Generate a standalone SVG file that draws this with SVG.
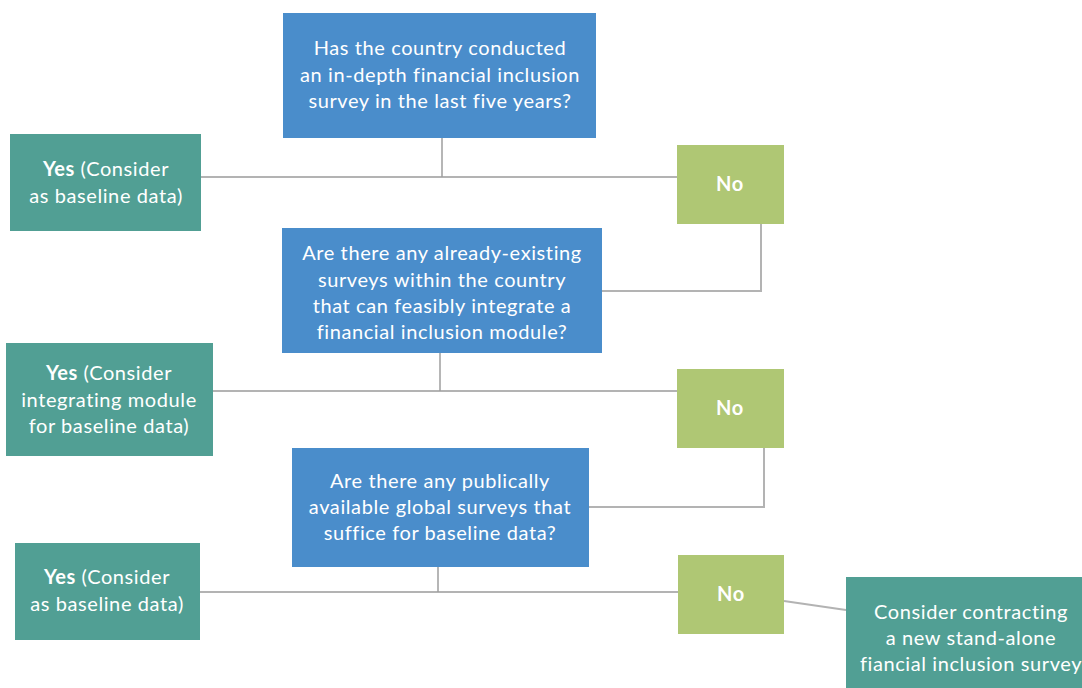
<svg xmlns="http://www.w3.org/2000/svg" width="1082" height="688" viewBox="0 0 1082 688">
<style>
.q{fill:#4A8DCB}
.y{fill:#519F94}
.n{fill:#AFC774}
.t{font-family:Lato,"Open Sans",sans-serif;font-size:20px;letter-spacing:0.6px;fill:#fff;text-anchor:middle}
.b{font-weight:bold}
.c{stroke:#B3B3B3;stroke-width:2;fill:none}
.v{stroke:#9E9E9E;stroke-width:1.5;fill:none}
</style>
<rect width="1082" height="688" fill="#fff"/>
<g id="connectors">
<path class="c" d="M201 177H677"/>
<path class="v" d="M442 138V177"/>
<path class="c" d="M761 224V291H602"/>
<path class="c" d="M213 391H677"/>
<path class="v" d="M440 353V391"/>
<path class="c" d="M764 448V507H589"/>
<path class="c" d="M200 592H678"/>
<path class="v" d="M438 567V592"/>
<path class="c" d="M784 601L846 610"/>
</g>
<g id="q1"><rect class="q" x="283" y="13" width="313" height="125"/>
<text class="t" x="440"><tspan x="440" y="55">Has the country conducted</tspan><tspan x="440" y="82">an in-depth financial inclusion</tspan><tspan x="440" y="108">survey in the last five years?</tspan></text></g>
<g id="yes1"><rect class="y" x="10" y="134" width="191" height="97"/>
<text class="t"><tspan x="106" y="176"><tspan class="b">Yes</tspan> (Consider</tspan><tspan x="106" y="203">as baseline data)</tspan></text></g>
<g id="no1"><rect class="n" x="677" y="145" width="107" height="79"/>
<text class="t b" x="730" y="191">No</text></g>
<g id="q2"><rect class="q" x="282" y="228" width="320" height="125"/>
<text class="t"><tspan x="442" y="260">Are there any already-existing</tspan><tspan x="442" y="287">surveys within the country</tspan><tspan x="442" y="313">that can feasibly integrate a</tspan><tspan x="442" y="339">financial inclusion module?</tspan></text></g>
<g id="yes2"><rect class="y" x="6" y="343" width="207" height="113"/>
<text class="t"><tspan x="109" y="380"><tspan class="b">Yes</tspan> (Consider</tspan><tspan x="109" y="407">integrating module</tspan><tspan x="109" y="433">for baseline data)</tspan></text></g>
<g id="no2"><rect class="n" x="677" y="369" width="107" height="79"/>
<text class="t b" x="730" y="415">No</text></g>
<g id="q3"><rect class="q" x="292" y="448" width="297" height="119"/>
<text class="t"><tspan x="440" y="488">Are there any publically</tspan><tspan x="440" y="514">available global surveys that</tspan><tspan x="440" y="540">suffice for baseline data?</tspan></text></g>
<g id="yes3"><rect class="y" x="15" y="543" width="185" height="97"/>
<text class="t"><tspan x="107" y="584"><tspan class="b">Yes</tspan> (Consider</tspan><tspan x="107" y="611">as baseline data)</tspan></text></g>
<g id="no3"><rect class="n" x="678" y="555" width="106" height="79"/>
<text class="t b" x="731" y="601">No</text></g>
<g id="final"><rect class="y" x="846" y="577" width="236" height="111"/>
<text class="t"><tspan x="971" y="619">Consider contracting</tspan><tspan x="971" y="645">a new stand-alone</tspan><tspan x="971" y="671">fiancial inclusion survey</tspan></text></g>
</svg>
